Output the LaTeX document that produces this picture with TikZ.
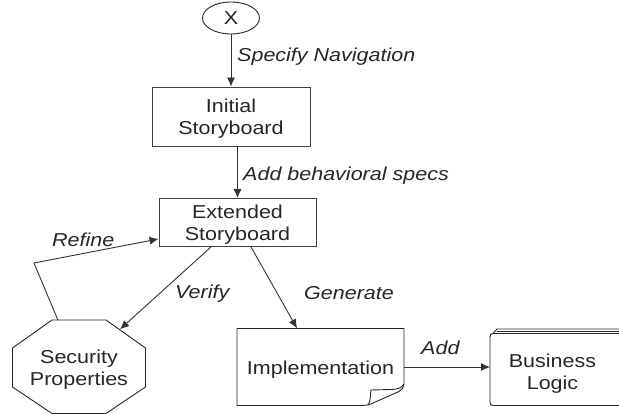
\documentclass[tikz,border=0pt]{standalone}
\usepackage{fontspec}
\setmainfont[FakeStretch=1.15]{Liberation Sans}
\usetikzlibrary{calc,arrows.meta}
\newcommand{\dnstrut}{\rule{0pt}{18.5pt}}
\tikzset{
 lbl/.style={font=\fontsize{18.7}{22}\selectfont,align=center,text=black!85,inner sep=0pt},
 conn/.style={draw=black!80,line width=0.9pt,-{Latex[length=9pt,width=8pt]}},
 plainconn/.style={draw=black!80,line width=0.9pt},
 edgelbl/.style={font=\fontsize{18.7}{22}\selectfont\itshape,text=black!85,inner sep=0pt,anchor=west},
 boxn/.style={draw=black!75,line width=0.9pt,lbl,anchor=center},
 ghost/.style={lbl,anchor=center,rectangle},
 outl/.style={draw=black!85,line width=0.9pt,line join=round},
}
\begin{document}
\begin{tikzpicture}[x=1pt,y=-1pt]
\useasboundingbox (0,0) rectangle (619,414);
% X ellipse
\draw[outl] (231,18) ellipse [x radius=28.5,y radius=16];
\node[ghost,minimum width=57pt,minimum height=32pt] (x) at (231,18) {X};
% boxes
\node[boxn,minimum width=158pt,minimum height=59pt] (init) at (231,116.5) {\dnstrut Initial\\Storyboard};
\node[boxn,minimum width=157pt,minimum height=48pt] (ext) at (237.5,222.5) {\dnstrut Extended\\Storyboard};
% octagon
\node[ghost,minimum width=133pt,minimum height=93pt] (sec) at (79,367) {\dnstrut Security\\Properties};
\draw[outl] (52,320) -- (106,320) -- (145.5,348) -- (145.5,387) -- (106,413.5) -- (52,413.5) -- (12.5,387) -- (12.5,348) -- cycle;
% implementation
\node[ghost,minimum width=167pt,minimum height=77pt] (impl) at (320.5,367) {\dnstrut Implementation};
\draw[outl] (237,328.5) -- (404,328.5) -- (404,384) .. controls (404,387) and (402,390) .. (399,391.5) -- (373,403) .. controls (370,404.5) and (367,405.5) .. (360,405.5) -- (237,405.5) -- cycle;
\draw[outl] (368,405) .. controls (371,402) and (370,394) .. (371,390) -- (391,389.5) .. controls (397,389.5) and (402,388) .. (404,384);
% business
\draw[outl] (490,337) .. controls (490,334.5) and (491,333.5) .. (493,333.5) -- (620,333.5);
\draw[outl] (490,337) -- (490,402) .. controls (490,404.5) and (491,405.5) .. (493,405.5) -- (620,405.5);
\draw[outl] (493,333.5) -- (497,329) -- (620,329);
\draw[outl] (497,331) -- (620,331);
\node[ghost,minimum width=90pt,minimum height=60pt] (biz) at (552.5,371.5) {\dnstrut Business\\Logic};
% connectors
\coordinate (refbend) at (34,263);
\draw[conn] (x.south) -- (init.north);
\draw[conn] ($(init.south)+(6.5,0)$) -- (ext.north);
\draw[conn] ($(ext.south)+(-26.5,0)$) -- ($(sec.north)+(41,9)$);
\draw[plainconn] ($(sec.north)+(-21,0)$) -- (refbend);
\draw[conn] (refbend) -- ($(ext.south west)+(0,-8)$);
\draw[conn] ($(ext.south)+(13.5,0)$) -- ($(impl.north)+(-23.5,0)$);
\draw[conn] (impl.east) -- (impl.east -| 490,0);
% edge labels
\node[edgelbl] (l1) at (237,57) {Specify Navigation};
\node[edgelbl] (l2) at (243,176) {Add behavioral specs};
\node[edgelbl] (l3) at (52,240) {Refine};
\node[edgelbl] (l4) at (175,294) {Verify};
\node[edgelbl] (l5) at (304,293) {Generate};
\node[edgelbl] (l6) at (421,348) {Add};
\end{tikzpicture}
\end{document}
